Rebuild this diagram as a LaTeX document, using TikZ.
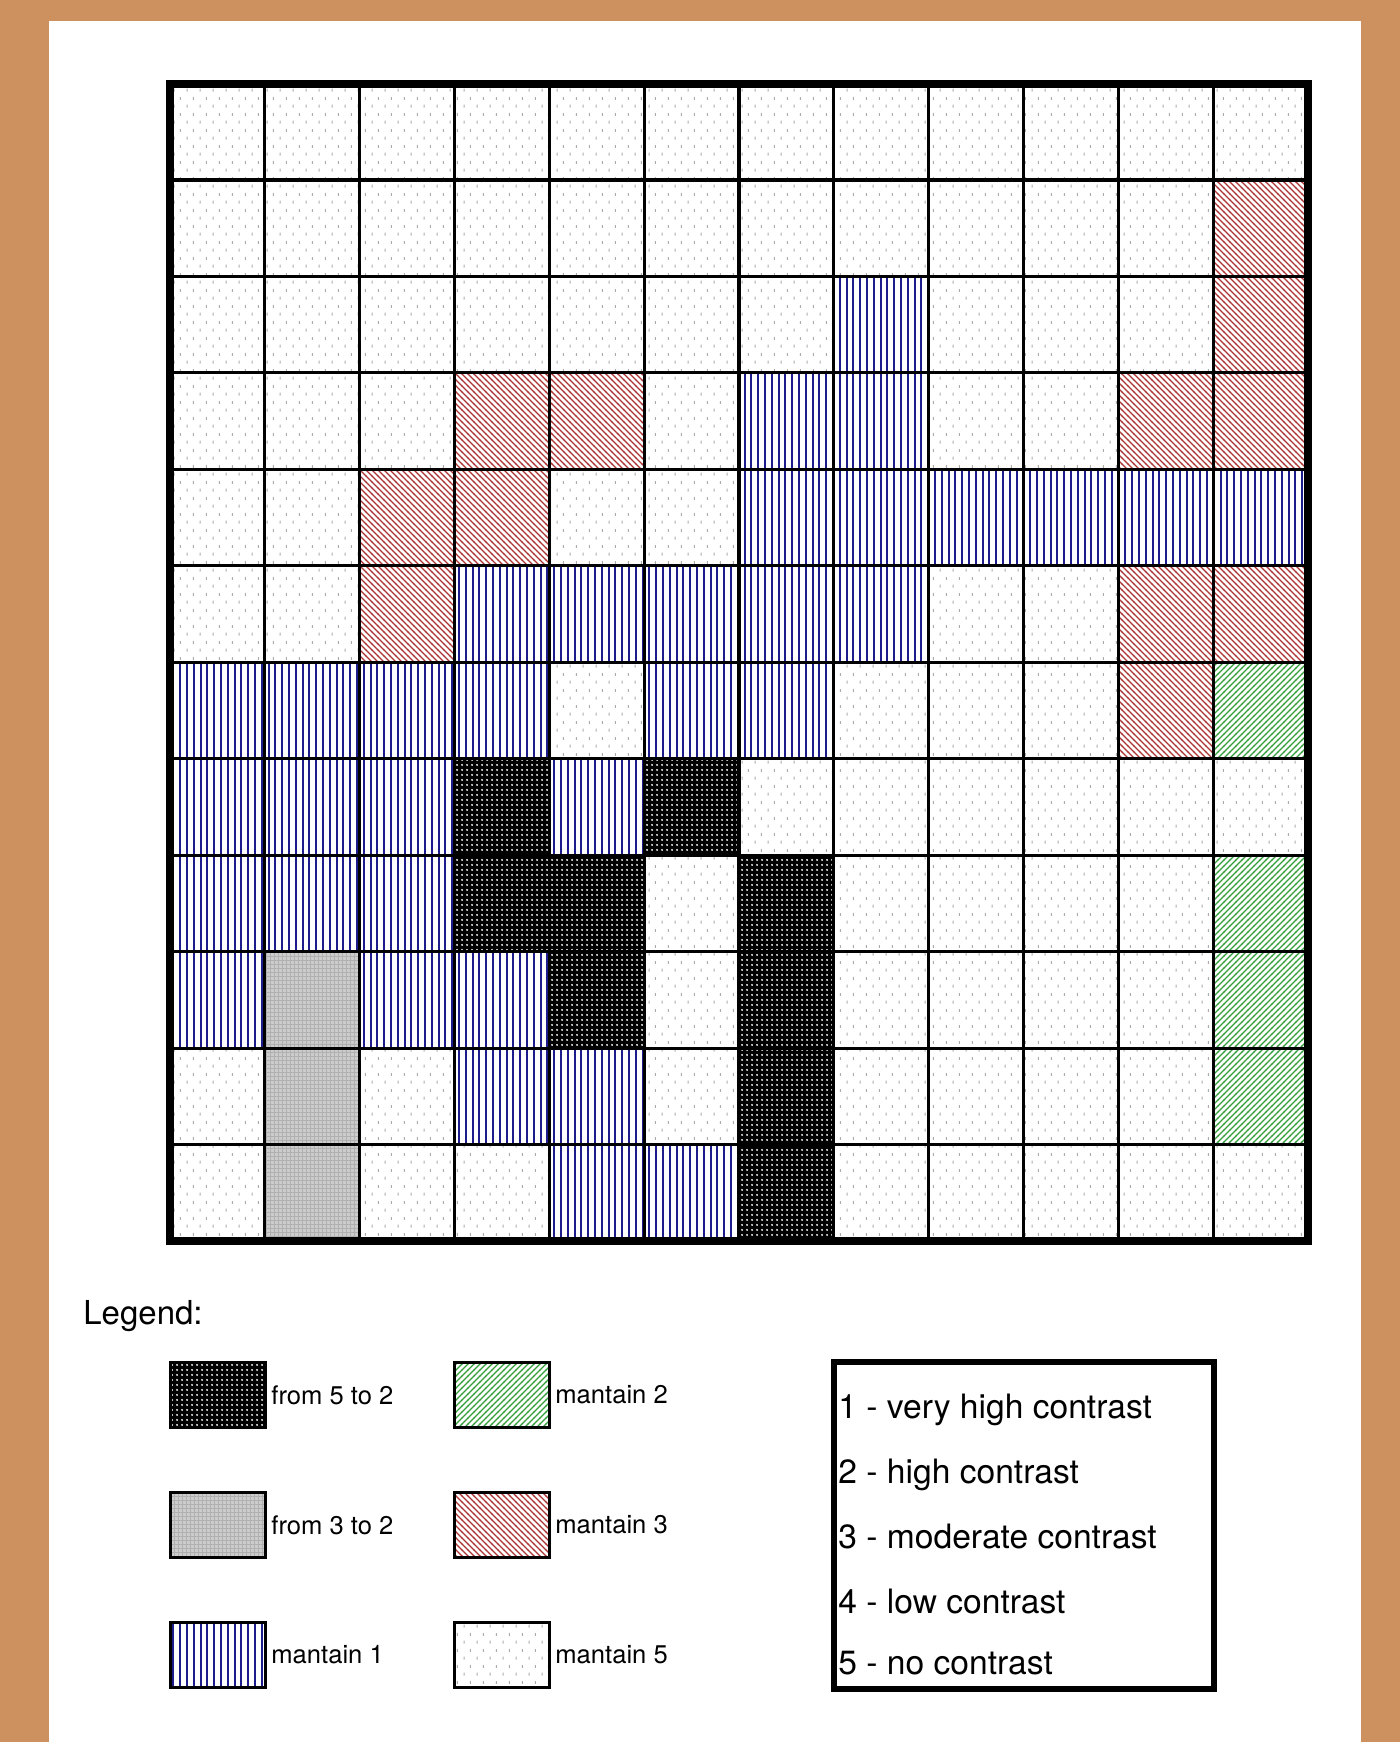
\documentclass[tikz,border=0pt]{standalone}
\usepackage{fontspec}
\setmainfont{TeX Gyre Heros}
\usepackage{tikz}
\usetikzlibrary{patterns,positioning}
\usepackage{xcolor}
\definecolor{FrameTan}{RGB}{205,145,96}
\definecolor{KeepBlue}{RGB}{28,28,140}
\definecolor{KeepRed}{RGB}{172,52,52}
\definecolor{KeepGreen}{RGB}{52,158,60}

% fill patterns of the map
\pgfdeclarepatternformonly{vbars}{\pgfqpoint{0pt}{-1pt}}{\pgfqpoint{3.4pt}{4.4pt}}{\pgfqpoint{3.4pt}{3.4pt}}{%
  \pgfsetlinewidth{1pt}%
  \pgfpathmoveto{\pgfqpoint{1.7pt}{-1pt}}%
  \pgfpathlineto{\pgfqpoint{1.7pt}{4.4pt}}%
  \pgfusepath{stroke}}
\pgfdeclarepatternformonly{nwstripes}{\pgfqpoint{-1pt}{-1pt}}{\pgfqpoint{4pt}{4pt}}{\pgfqpoint{3pt}{3pt}}{%
  \pgfsetlinewidth{0.65pt}%
  \pgfpathmoveto{\pgfqpoint{-0.1pt}{3.1pt}}%
  \pgfpathlineto{\pgfqpoint{3.1pt}{-0.1pt}}%
  \pgfusepath{stroke}}
\pgfdeclarepatternformonly{nestripes}{\pgfqpoint{-1pt}{-1pt}}{\pgfqpoint{4pt}{4pt}}{\pgfqpoint{3pt}{3pt}}{%
  \pgfsetlinewidth{0.65pt}%
  \pgfpathmoveto{\pgfqpoint{-0.1pt}{-0.1pt}}%
  \pgfpathlineto{\pgfqpoint{3.1pt}{3.1pt}}%
  \pgfusepath{stroke}}
\pgfdeclarepatternformonly{whitedots}{\pgfqpoint{0pt}{0pt}}{\pgfqpoint{2.5pt}{2.5pt}}{\pgfqpoint{2.5pt}{2.5pt}}{%
  \pgfpathcircle{\pgfqpoint{1.25pt}{1.25pt}}{0.6pt}%
  \pgfusepath{fill}}
\pgfdeclarepatternformonly{sparsedots}{\pgfqpoint{0pt}{0pt}}{\pgfqpoint{6.6pt}{8pt}}{\pgfqpoint{6.6pt}{8pt}}{%
  \pgfpathrectangle{\pgfqpoint{1.35pt}{1.3pt}}{\pgfqpoint{0.6pt}{1.5pt}}%
  \pgfpathrectangle{\pgfqpoint{4.65pt}{5.3pt}}{\pgfqpoint{0.6pt}{1.5pt}}%
  \pgfusepath{fill}}
\pgfdeclarepatternformonly{finegrid}{\pgfqpoint{-0.5pt}{-0.5pt}}{\pgfqpoint{2.5pt}{2.5pt}}{\pgfqpoint{2pt}{2pt}}{%
  \pgfsetlinewidth{0.4pt}%
  \pgfpathmoveto{\pgfqpoint{1pt}{0pt}}\pgfpathlineto{\pgfqpoint{1pt}{2pt}}%
  \pgfpathmoveto{\pgfqpoint{0pt}{1pt}}\pgfpathlineto{\pgfqpoint{2pt}{1pt}}%
  \pgfusepath{stroke}}

\begin{document}
\begin{tikzpicture}[x=0.5pt,y=-0.5pt,
  cellD/.style={pattern=sparsedots,pattern color=gray!65},
  cellB/.style={pattern=vbars,pattern color=KeepBlue},
  cellR/.style={pattern=nwstripes,pattern color=KeepRed},
  cellN/.style={pattern=nestripes,pattern color=KeepGreen},
  cellK/.style={preaction={fill=black},pattern=whitedots,pattern color=white},
  cellG/.style={preaction={fill=gray!40},pattern=finegrid,pattern color=gray!62},
  swatch/.style={draw,line width=1.5pt,minimum width=47.5pt,minimum height=32.5pt,inner sep=0pt},
  swlabel/.style={font=\fontsize{12.8}{15}\selectfont,inner sep=0pt},
  scaletext/.style={anchor=base west,font=\fontsize{16.8}{20}\selectfont,inner sep=0pt},
]
% frame and sheet
\fill[FrameTan] (0,0) rectangle (1400,1742);
\fill[white] (49,21) rectangle (1361,1742);

% contrast map, row by row from the top
\foreach \cells [count=\r] in {
  {D,D,D,D,D,D,D,D,D,D,D,D},
  {D,D,D,D,D,D,D,D,D,D,D,R},
  {D,D,D,D,D,D,D,B,D,D,D,R},
  {D,D,D,R,R,D,B,B,D,D,R,R},
  {D,D,R,R,D,D,B,B,B,B,B,B},
  {D,D,R,B,B,B,B,B,D,D,R,R},
  {B,B,B,B,D,B,B,D,D,D,R,N},
  {B,B,B,K,B,K,D,D,D,D,D,D},
  {B,B,B,K,K,D,K,D,D,D,D,N},
  {B,G,B,B,K,D,K,D,D,D,D,N},
  {D,G,D,B,B,D,K,D,D,D,D,N},
  {D,G,D,D,B,B,K,D,D,D,D,D}}{
  \foreach \c [count=\k] in \cells
    \path[cell\c] ({170+(\k-1)*94.83},{83.5+(\r-1)*96.46}) rectangle ++(94.83,96.46);
}
\foreach \i in {1,...,11}{
  \draw[line width=1.6pt] ({170+\i*94.83},83.5) -- ({170+\i*94.83},1241);
  \draw[line width=1.6pt] (170,{83.5+\i*96.46}) -- (1308,{83.5+\i*96.46});
}
\draw[line width=4pt] (170,83.5) rectangle (1308,1241);

% legend
\node[anchor=base west,font=\fontsize{16.5}{19}\selectfont,inner sep=0pt] (legend) at (83,1324) {Legend:};

\node[swatch,cellK] (s52) at (218,1395) {};
\node[swatch,cellG] (s32) at (218,1525) {};
\node[swatch,cellB] (k1) at (218,1655) {};
\node[swatch,cellN] (k2) at (502,1395) {};
\node[swatch,cellR] (k3) at (502,1525) {};
\node[swatch,cellD] (k5) at (502,1655) {};

\node[swlabel,right=2pt of s52] (l52) {from 5 to 2};
\node[swlabel,right=2pt of s32] (l32) {from 3 to 2};
\node[swlabel,right=2pt of k1] (l1) {mantain 1};
\node[swlabel,right=2pt of k2] (l2) {mantain 2};
\node[swlabel,right=2pt of k3] (l3) {mantain 3};
\node[swlabel,right=2pt of k5] (l5) {mantain 5};

% contrast scale
\node[draw,line width=3pt,minimum width=190pt,minimum height=163.5pt,inner sep=0pt] (scalebox) at (1024,1525.5) {};
\node[scaletext] (c1) at (838,1418) {1 - very high contrast};
\node[scaletext] (c2) at (838,1483) {2 - high contrast};
\node[scaletext] (c3) at (838,1548) {3 - moderate contrast};
\node[scaletext] (c4) at (838,1613) {4 - low contrast};
\node[scaletext] (c5) at (838,1674) {5 - no contrast};
\end{tikzpicture}
\end{document}
